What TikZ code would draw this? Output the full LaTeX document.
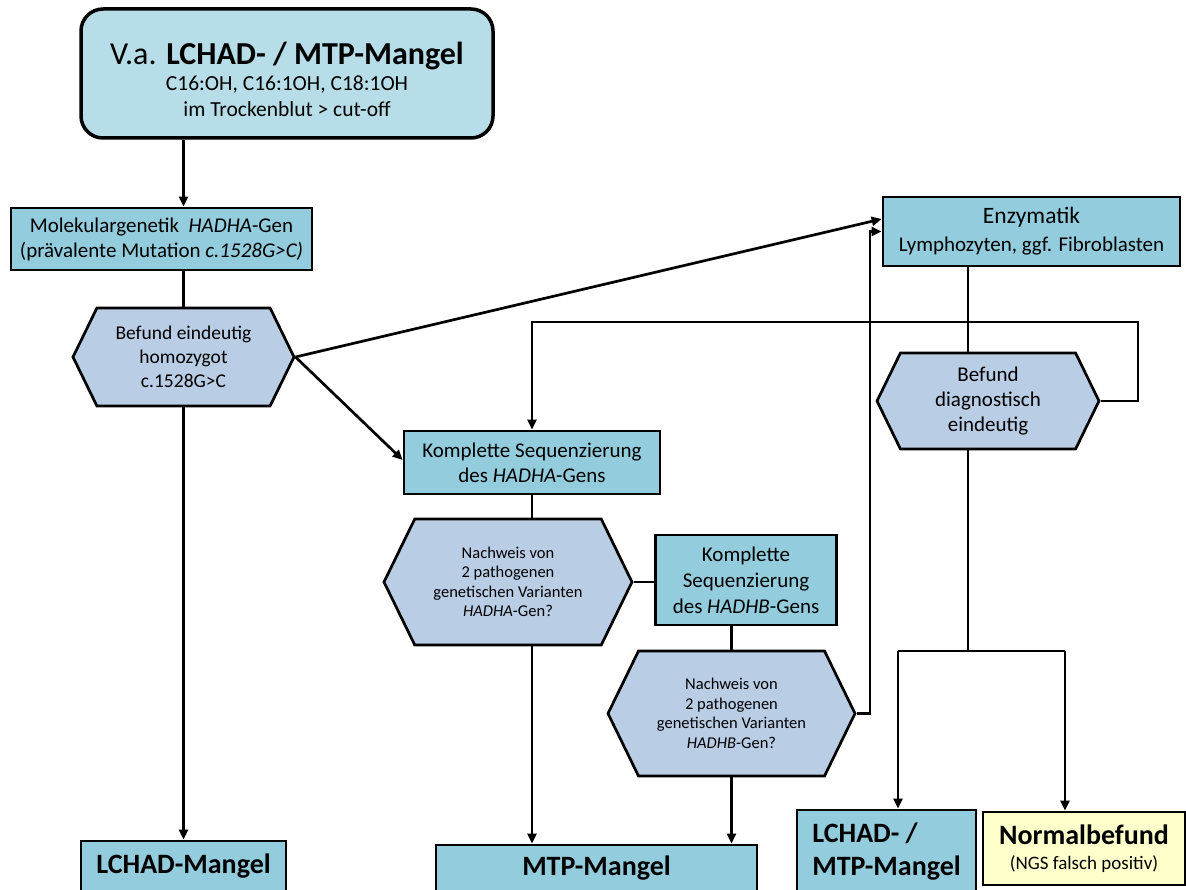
\documentclass[tikz,border=0pt]{standalone}
\usepackage{fontspec}
\setmainfont{Carlito}
\usetikzlibrary{shapes.symbols,arrows.meta}

\definecolor{startblue}{HTML}{B7DEE8}
\definecolor{stepblue}{HTML}{93CDDD}
\definecolor{hexblue}{HTML}{B9CDE5}
\definecolor{normalyellow}{HTML}{FFFFCC}

\begin{document}
\begin{tikzpicture}[x=1pt,y=-1pt,line width=2.7pt]
\tikzset{
% Node styles for the flow chart: start box, step boxes, decision hexagons, result boxes
start box/.style={rectangle,rounded corners=22pt,draw,line width=3.5pt,fill=startblue,align=center,inner sep=0pt},
step box/.style={rectangle,draw,fill=stepblue,align=center,inner sep=0pt,font=\fontsize{21}{25}\selectfont},
hex node/.style={signal,signal to=west and east,signal pointer angle=128,draw,fill=hexblue,align=center,inner sep=0pt},
result box/.style={rectangle,draw,fill=stepblue,inner sep=0pt,font=\bfseries\fontsize{28}{33}\selectfont},
flow/.style={-{Triangle[length=10pt,width=9pt]}}
}
\useasboundingbox (0,0) rectangle (1186,890);
% Left column
\node(start)[start box,minimum width=412pt,minimum height=129pt,font=\fontsize{21.5}{26}\selectfont] at (287,73.5)
  {\rule{0pt}{34pt}{\fontsize{32}{37}\selectfont V.a. \textbf{LCHAD- / MTP-Mangel}}\\C16:OH, C16:1OH, C18:1OH\\im Trockenblut > cut-off};
\node(mol)[step box,minimum width=301pt,minimum height=62pt] at (161.5,239)
  {Molekulargenetik\ \ \textit{HADHA}-Gen\\(prävalente Mutation \textit{c.1528G>C)}};
\node(hex1)[hex node,minimum width=221pt,minimum height=98pt,font=\fontsize{19.5}{24}\selectfont] at (183.5,357)
  {Befund eindeutig\\homozygot\\c.1528G>C};
\node(lchad)[result box,minimum width=205pt,minimum height=50pt] at (183.5,866) {LCHAD-Mangel};
% Middle column
\node(seqA)[step box,minimum width=256pt,minimum height=63pt] at (532,462.5)
  {Komplette Sequenzierung\\des \textit{HADHA}-Gens};
\node(hex2)[hex node,minimum width=248pt,minimum height=126pt,font=\fontsize{16.5}{19.5}\selectfont] at (508,582)
  {Nachweis von\\2 pathogenen\\genetischen Varianten\\\textit{HADHA}-Gen?};
\node(seqB)[step box,minimum width=181pt,minimum height=90pt,font=\fontsize{21}{26}\selectfont] at (746,580)
  {Komplette\\Sequenzierung\\des \textit{HADHB}-Gens};
\node(hex4)[hex node,minimum width=247pt,minimum height=125pt,font=\fontsize{16.5}{19.5}\selectfont] at (731.5,713.5)
  {Nachweis von\\2 pathogenen\\genetischen Varianten\\\textit{HADHB}-Gen?};
\node(mtp)[result box,minimum width=321pt,minimum height=46pt] at (596.5,868) {MTP-Mangel};
% Right column
\node(enz)[step box,minimum width=297pt,minimum height=69pt,font=\fontsize{21}{28}\selectfont] at (1031.5,231.5)
  {{\fontsize{23.5}{28}\selectfont Enzymatik}\\Lymphozyten, ggf. Fibroblasten};
\node(hex3)[hex node,minimum width=222pt,minimum height=96pt,font=\fontsize{21}{25}\selectfont] at (988,401)
  {Befund\\diagnostisch\\eindeutig};
\node(lm)[result box,minimum width=179pt,minimum height=84pt,align=left] at (886.5,852) {LCHAD- /\\MTP-Mangel};
\node(normal)[rectangle,draw,fill=normalyellow,inner sep=0pt,minimum width=202pt,minimum height=73pt,align=center,font=\fontsize{19}{25}\selectfont] at (1084,848.5)
  {{\bfseries\fontsize{28}{33}\selectfont Normalbefund}\\(NGS falsch positiv)};
% Helper points for the bends
\coordinate(loop) at (1138,322);
\coordinate(back) at (870,0);
\coordinate(split) at (968,651);
\coordinate(splitL) at (898,651);
\coordinate(splitR) at (1065,651);
% Connectors
\draw[flow] (start.south -| hex1.north) -- (mol.north -| hex1.north);
\draw (mol.south -| hex1.north) -- (hex1.north);
\draw[flow] (hex1.south) -- (lchad.north);
\draw[flow] (hex1.east) -- ([yshift=12.5pt]enz.west);
\draw[flow] (hex1.east) -- ([yshift=2.5pt]seqA.west);
\draw[flow] (hex3.east) -| (loop) -- (loop -| seqA.north) -- (seqA.north);
\draw (seqA.south) -- (seqA.south |- hex2.north);
\draw[flow] (seqA.south |- hex2.south) -- (seqA.south |- mtp.north);
\draw (hex2.east) -- (hex2.east -| seqB.west);
\draw (seqB.south -| hex4.north) -- (hex4.north);
\draw[flow] (hex4.south) -- (hex4.south |- mtp.north);
\draw[flow] (hex4.east) -- (hex4.east -| back) -- (enz.west -| back) -- (enz.west);
\draw (enz.south -| split) -- (hex3.north -| split);
\draw (hex3.south -| split) -- (split);
\draw (splitL) -- (splitR);
\draw[flow] (splitL) -- (splitL |- lm.north);
\draw[flow] (splitR) -- (splitR |- normal.north);
\end{tikzpicture}
\end{document}
